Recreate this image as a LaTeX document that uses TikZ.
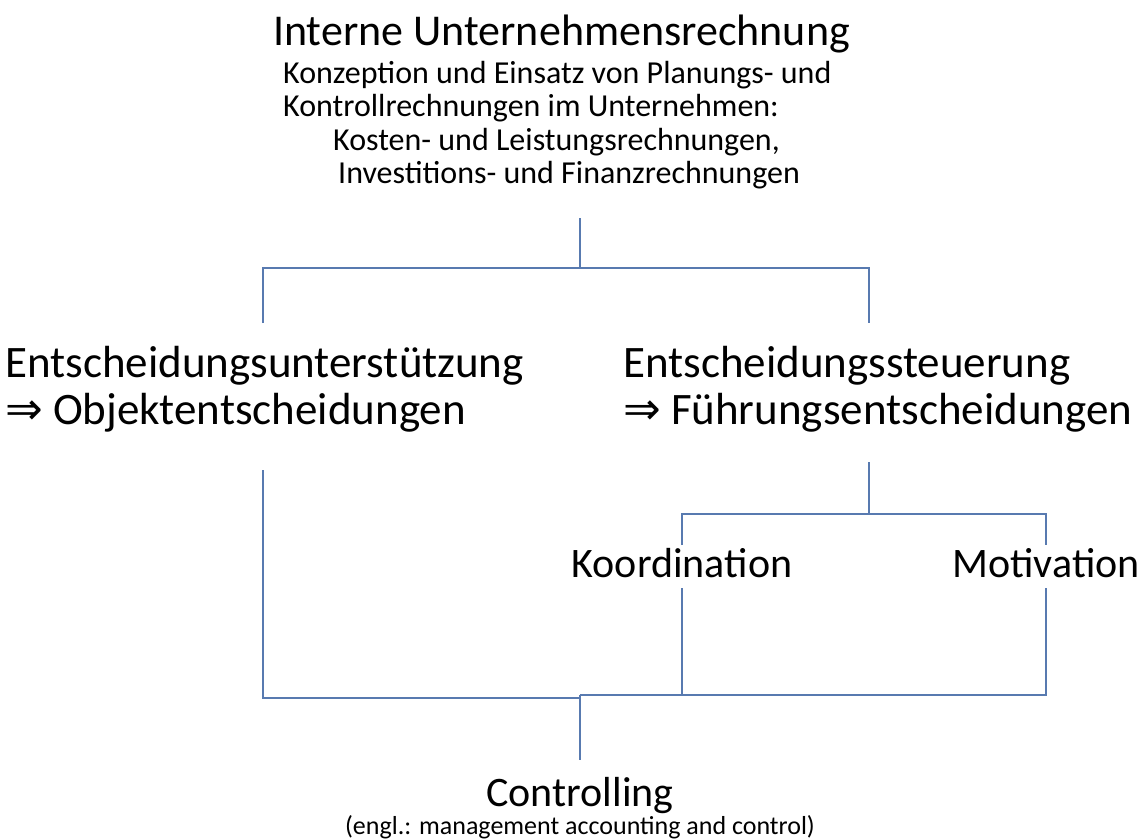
\documentclass[tikz,border=0pt]{standalone}
\usepackage{fontspec}
\setmainfont{Carlito}
\newfontfamily\arrowfont{DejaVu Sans}
\definecolor{lineblue}{RGB}{88,122,176}
\newcommand{\impl}{{\arrowfont ⇒}}
\begin{document}
\begin{tikzpicture}[x=1pt,y=-1pt,
  txt/.style={inner sep=0pt, anchor=base west},
  big/.style={txt, font=\fontsize{45}{54}\selectfont},
  mid/.style={txt, font=\fontsize{42}{50}\selectfont},
  small/.style={txt, font=\fontsize{32}{38}\selectfont},
  conn/.style={draw=lineblue, line width=1.5pt}]
\useasboundingbox (0,0) rectangle (1146,840);
% texts
\node[txt, font=\fontsize{44}{52}\selectfont] (title) at (273,46) {Interne Unternehmensrechnung};
\node[small] (s1) at (283,84) {Konzeption und Einsatz von Planungs- und};
\node[small] (s2) at (283,117) {Kontrollrechnungen im Unternehmen:};
\node[small] (s3) at (333,150) {Kosten- und Leistungsrechnungen,};
\node[small] (s4) at (338,183) {Investitions- und Finanzrechnungen};
\node[big] (eu) at (5,377) {Entscheidungsunterst\"utzung};
\node[big] (oe) at (5,424) {\impl\ Objektentscheidungen};
\node[big] (es) at (623,377) {Entscheidungssteuerung};
\node[big] (fe) at (623,424) {\impl\ F\"uhrungsentscheidungen};
\node[mid, anchor=base] (ko) at (682,577) {Koordination};
\node[mid, anchor=base] (mo) at (1046,577) {Motivation};
\node[mid, anchor=base] (co) at (580,806) {Controlling};
\node[txt, anchor=base, font=\fontsize{26}{31}\selectfont] (en) at (580,834) {(engl.: management accounting and control)};
% junction coordinates
\coordinate (t0) at (580,218);
\coordinate (t1) at (580,268);
\coordinate (l0) at (263,323);
\coordinate (r0) at (869,323);
\coordinate (l1) at (263,470);
\coordinate (f0) at (869,462);
\coordinate (f1) at (869,514);
\coordinate (k0) at (682,545);
\coordinate (m0) at (1046,545);
\coordinate (k1) at (682,588);
\coordinate (m1) at (1046,588);
\coordinate (bl) at (580,698);
\coordinate (b1) at (580,695);
\coordinate (c0) at (580,760);
% connectors
\draw[conn] (t0) -- (t1);
\draw[conn] (l0) |- (t1) -| (r0);
\draw[conn] (f0) -- (f1);
\draw[conn] (k0) |- (f1) -| (m0);
\draw[conn] (l1) |- (bl);
\draw[conn] (k1) |- (b1);
\draw[conn] (m1) |- (b1);
\draw[conn] (b1) -- (c0);
\end{tikzpicture}
\end{document}
